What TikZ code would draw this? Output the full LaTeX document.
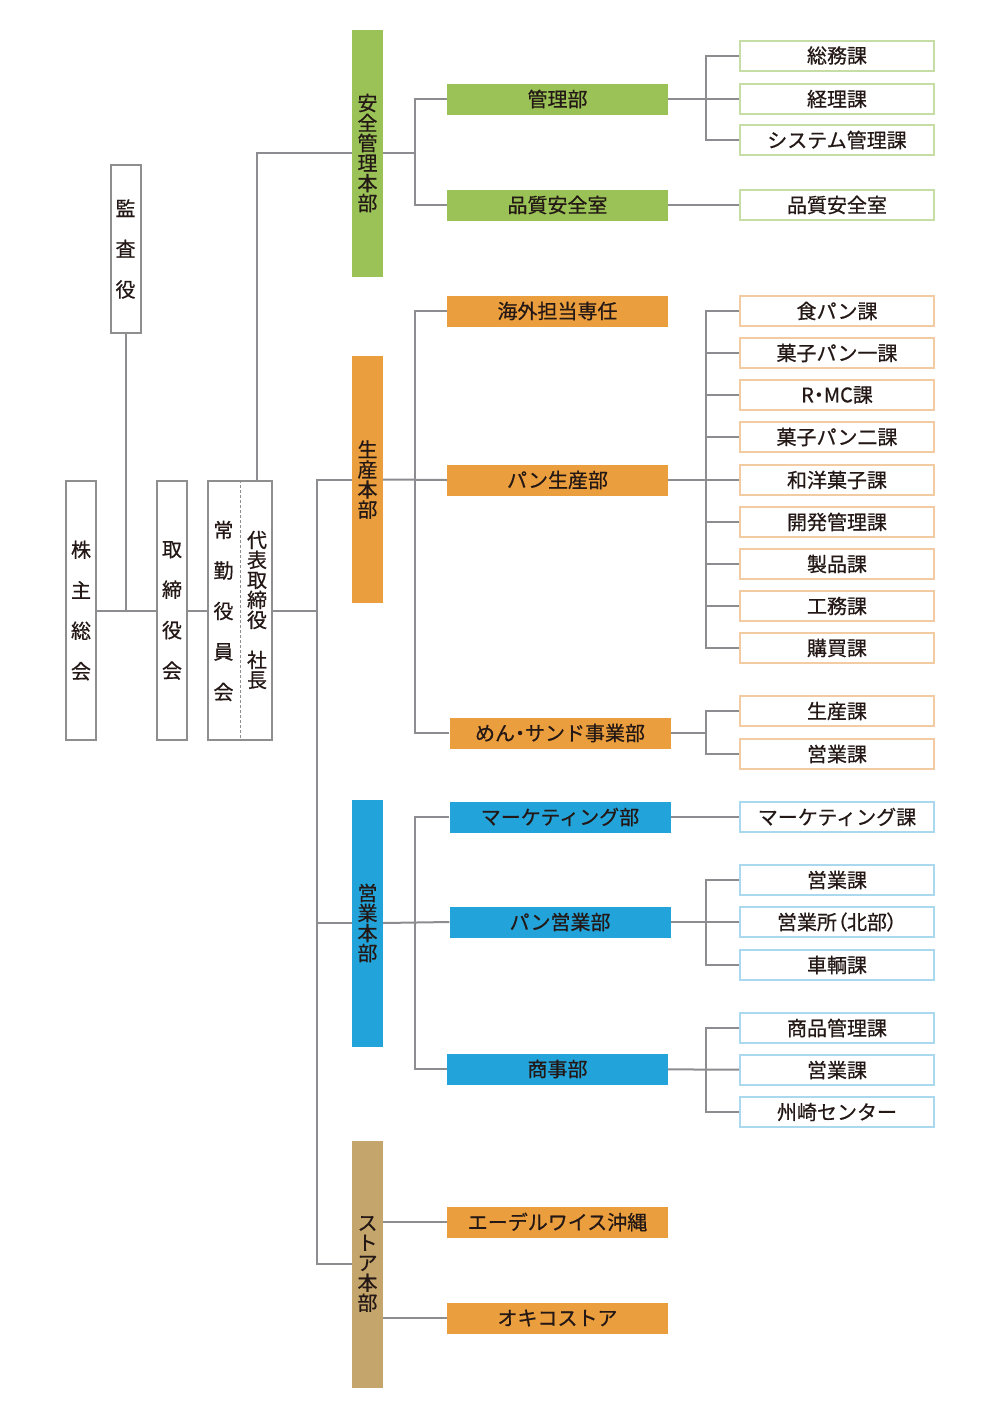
\documentclass[tikz,border=0pt]{standalone}
\usepackage{fontspec}
\setmainfont{Noto Sans CJK JP}[FakeBold=0.6]

\definecolor{ink}{HTML}{231815}
\definecolor{lgray}{HTML}{8C8C91}
\definecolor{bgray}{HTML}{8E8E8E}
\definecolor{cgreen}{HTML}{9AC256}
\definecolor{corange}{HTML}{EB9E3D}
\definecolor{cblue}{HTML}{22A4DA}
\definecolor{ctan}{HTML}{C4A56C}
\definecolor{lgreen}{HTML}{C6DEA6}
\definecolor{lorange}{HTML}{F3CBA3}
\definecolor{lblue}{HTML}{A9D8EF}

\newcommand{\pp}[1]{{\addfontfeatures{RawFeature=+palt}#1}}

\begin{document}
\begin{tikzpicture}
		[x=1pt,y=-1pt,
		line/.style={draw=lgray, line width=2pt},
		divider/.style={draw=bgray, line width=0.8pt, dash pattern=on 3pt off 2pt},
		lbox/.style={draw=bgray, line width=2pt, fill=white, text=ink, inner sep=0pt,
			minimum width=30pt, minimum height=259pt, align=center,
			font=\fontsize{20}{40.5}\selectfont},
		vtxt/.style={text=ink, inner sep=0pt, align=center, font=\fontsize{20}{40.5}\selectfont},
		bar/.style={text=ink, inner sep=0pt, minimum width=31pt, minimum height=247pt,
			align=center, font=\fontsize{20}{20}\selectfont},
		dept/.style={text=ink, inner sep=0pt, minimum width=221pt, minimum height=31pt,
			font=\fontsize{20}{20}\selectfont},
		sect/.style={fill=white, text=ink, line width=2pt, inner sep=0pt,
			minimum width=194pt, minimum height=30pt, font=\fontsize{20}{20}\selectfont}]

		\fill[white] (0,0) rectangle (1000,1416);
		\useasboundingbox (0,0) rectangle (1000,1416);

		% left side
		\node[lbox, minimum height=168pt] (kansa) at (125.5,249) {監\\査\\役};
		\node[lbox] (kabu) at (81,610.5) {株\\主\\総\\会};
		\node[lbox] (tori) at (172,610.5) {取\\締\\役\\会};
		\node[lbox, minimum width=64pt] (yakuin) at (240,610.5) {};
		\node[vtxt] (joukin) at (223.5,611) {常\\勤\\役\\員\\会};
		\node[vtxt, font=\fontsize{20}{20}\selectfont] (daihyo) at (257,610)
		{代\\表\\取\\締\\役\\[20pt]社\\長};
		\draw[divider] (yakuin.north) -- (yakuin.south);

		% honbu
		\node[bar, fill=cgreen] (anzen) at (367.5,153) {安\\全\\管\\理\\本\\部};
		\node[bar, fill=corange] (seisan) at (367.5,479.5) {生\\産\\本\\部};
		\node[bar, fill=cblue] (eigyo) at (367.5,923) {営\\業\\本\\部};
		\node[bar, fill=ctan] (store) at (367.5,1264) {ス\\ト\\ア\\本\\部};

		% bu
		\node[dept, fill=cgreen] (kanri) at (557.5,99) {管理部};
		\node[dept, fill=cgreen] (hinshitsu) at (557.5,205) {品質安全室};
		\node[dept, fill=corange] (kaigai) at (557.5,311) {海外担当専任};
		\node[dept, fill=corange] (pansei) at (557.5,480) {パン生産部};
		\node[dept, fill=corange] (men) at (560,733) {めん\pp{・}サンド事業部};
		\node[dept, fill=cblue] (mkt) at (560,817) {マーケティング部};
		\node[dept, fill=cblue] (paneigyo) at (560,922) {パン営業部};
		\node[dept, fill=cblue] (shoji) at (557.5,1069) {商事部};
		\node[dept, fill=corange] (edel) at (557.5,1222) {エーデルワイス沖縄};
		\node[dept, fill=corange] (okico) at (557.5,1318) {オキコストア};

		% ka
		\node[sect, draw=lgreen] (soumu) at (837,55.5) {総務課};
		\node[sect, draw=lgreen] (keiri) at (837,99) {経理課};
		\node[sect, draw=lgreen] (system) at (837,140) {システム管理課};
		\node[sect, draw=lgreen] (hinshitsuka) at (837,205) {品質安全室};

		\node[sect, draw=lorange] (shokupan) at (837,311) {食パン課};
		\node[sect, draw=lorange] (kashi1) at (837,353) {菓子パン一課};
		\node[sect, draw=lorange] (rmc) at (837,395) {R\pp{・}MC課};
		\node[sect, draw=lorange] (kashi2) at (837,437) {菓子パン二課};
		\node[sect, draw=lorange] (wayou) at (837,480) {和洋菓子課};
		\node[sect, draw=lorange] (kaihatsu) at (837,522) {開発管理課};
		\node[sect, draw=lorange] (seihin) at (837,564) {製品課};
		\node[sect, draw=lorange] (koumu) at (837,606) {工務課};
		\node[sect, draw=lorange] (kobai) at (837,648) {購買課};
		\node[sect, draw=lorange] (seisanka) at (837,711) {生産課};
		\node[sect, draw=lorange] (eigyoka1) at (837,754) {営業課};

		\node[sect, draw=lblue] (mktka) at (837,817) {マーケティング課};
		\node[sect, draw=lblue] (eigyoka2) at (837,880) {営業課};
		\node[sect, draw=lblue] (eigyosho) at (837,922) {営業所\pp{（}北部\pp{）}};
		\node[sect, draw=lblue] (sharyo) at (837,965) {車輌課};
		\node[sect, draw=lblue] (shohin) at (837,1028) {商品管理課};
		\node[sect, draw=lblue] (eigyoka3) at (837,1070) {営業課};
		\node[sect, draw=lblue] (suzaki) at (837,1112) {州崎センター};

		\coordinate (trunk) at (317,610.5);
		\coordinate (colA) at (415,0);
		\coordinate (colB) at (706,0);

		% connectors, left
		\draw[line] (kabu) -- (tori);
		\draw[line] (kansa) -- (kansa |- kabu);
		\draw[line] (tori) -- (yakuin);
		\draw[line] (yakuin.east) -- (trunk);
		\draw[line] (daihyo |- yakuin.north) |- (anzen.west);
		\draw[line] (seisan.west) -- (trunk |- seisan.west) -- (trunk |- store.west) -- (store.west);
		\draw[line] (eigyo.west) -- (trunk |- eigyo.west);

		% anzen kanri
		\draw[line] (anzen.east) -- (anzen.east -| colA);
		\draw[line] (kanri.west) -| (colA |- hinshitsu.west) -- (hinshitsu.west);
		\draw[line] (kanri.east) -- (keiri.west);
		\draw[line] (soumu.west) -| (colB |- system.west) -- (system.west);
		\draw[line] (hinshitsu) -- (hinshitsuka);

		% seisan
		\draw[line] (seisan.east) -- (pansei.west);
		\draw[line] (kaigai.west) -| (colA |- men.west) -- (men.west);
		\draw[line] (pansei.east) -- (wayou.west);
		\draw[line] (shokupan.west) -| (colB |- kobai.west) -- (kobai.west);
		\draw[line] (colB |- kashi1.west) -- (kashi1.west);
		\draw[line] (colB |- rmc.west) -- (rmc.west);
		\draw[line] (colB |- kashi2.west) -- (kashi2.west);
		\draw[line] (colB |- kaihatsu.west) -- (kaihatsu.west);
		\draw[line] (colB |- seihin.west) -- (seihin.west);
		\draw[line] (colB |- koumu.west) -- (koumu.west);
		\draw[line] (men.east) -- (men.east -| colB);
		\draw[line] (seisanka.west) -| (colB |- eigyoka1.west) -- (eigyoka1.west);

		% eigyo
		\draw[line] (eigyo.east) -- (paneigyo.west);
		\draw[line] (mkt.west) -| (colA |- shoji.west) -- (shoji.west);
		\draw[line] (mkt) -- (mktka);
		\draw[line] (paneigyo) -- (eigyosho);
		\draw[line] (eigyoka2.west) -| (colB |- sharyo.west) -- (sharyo.west);
		\draw[line] (shoji) -- (eigyoka3);
		\draw[line] (shohin.west) -| (colB |- suzaki.west) -- (suzaki.west);

		% store
		\draw[line] (store.east |- edel.west) -- (edel.west);
		\draw[line] (store.east |- okico.west) -- (okico.west);

\end{tikzpicture}
\end{document}
